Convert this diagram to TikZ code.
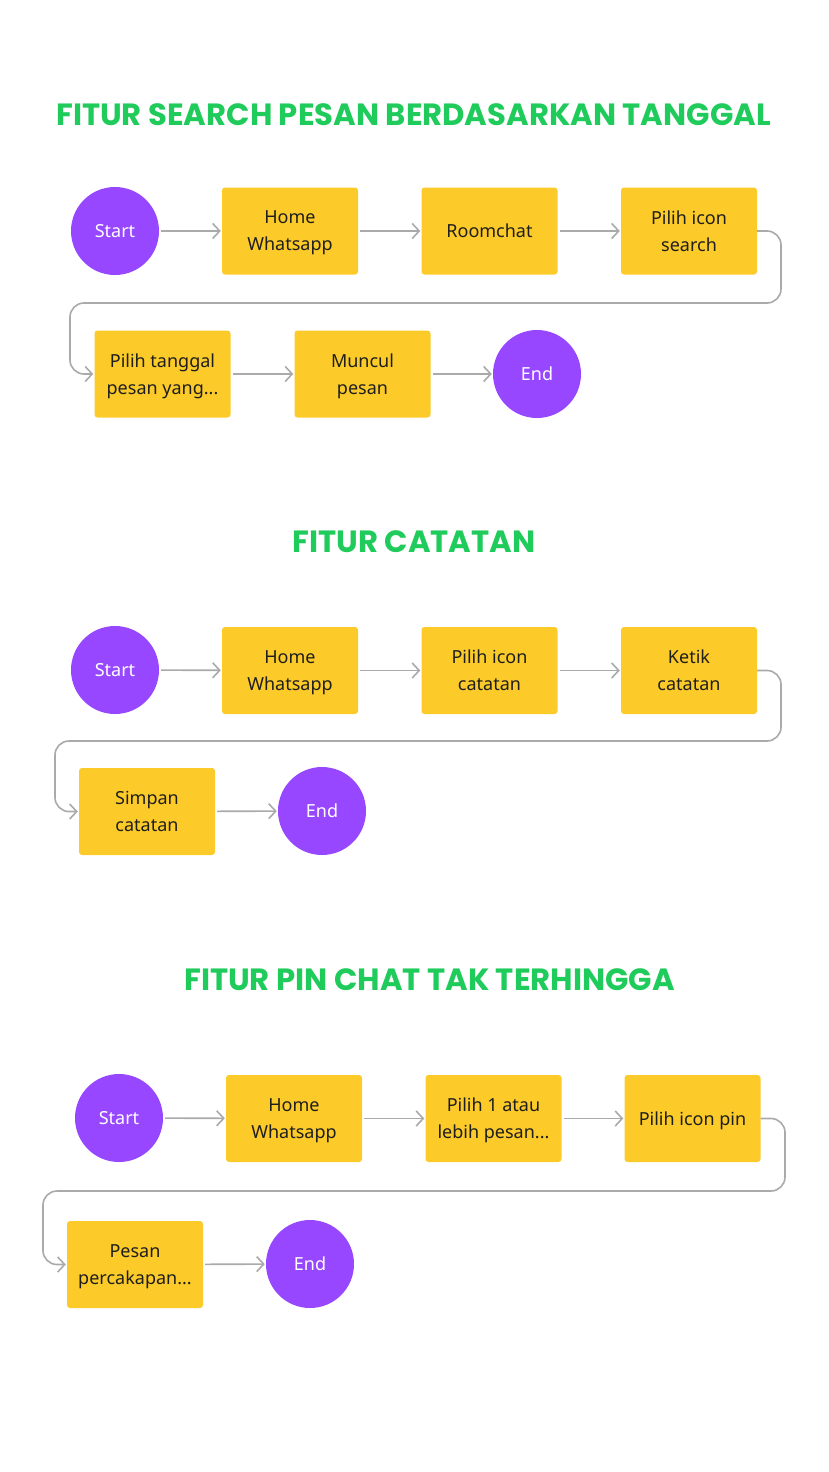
\documentclass[tikz,border=0pt]{standalone}
\usepackage{fontspec}
\setmainfont{Noto Sans}
\newfontfamily\titlefont{Poppins}
\usetikzlibrary{arrows.meta}
\definecolor{fpurple}{HTML}{9747FF}
\definecolor{fyellow}{HTML}{FCCB2A}
\definecolor{fgreen}{HTML}{1FCB5B}
\definecolor{fgray}{HTML}{AAAAAA}
\definecolor{ftext}{HTML}{1E1E1E}
\begin{document}
\begin{tikzpicture}[x=1pt,y=-1pt,
  startend/.style={circle,fill=fpurple,minimum size=88pt,inner sep=0pt,text=white,font=\fontsize{18}{27}\selectfont},
  stepbox/.style={rectangle,rounded corners=3pt,fill=fyellow,minimum width=136pt,minimum height=87pt,inner sep=0pt,text=ftext,align=center,text depth=0pt,font=\fontsize{18}{27}\selectfont},
  ttl/.style={text=fgreen,font=\titlefont\bfseries\fontsize{30.7}{36}\selectfont},
  conn/.style={draw=fgray,line width=1.6pt,-{Straight Barb[length=7pt,width=15pt,line width=1.6pt]},shorten <=2pt,shorten >=1pt},
  wrap/.style={draw=fgray,line width=1.6pt,rounded corners=14pt,-{Straight Barb[length=7pt,width=15pt,line width=1.6pt]},shorten >=1pt}
]
\fill[white] (0,0) rectangle (828,1472);
% Section 1
\node[ttl] (t1) at (413.5,115) {FITUR SEARCH PESAN BERDASARKAN TANGGAL};
\node[startend] (s1) at (115,231) {Start};
\node[stepbox] (a1) at (290,231) {Home\\Whatsapp};
\node[stepbox] (a2) at (489.5,231) {Roomchat};
\node[stepbox] (a3) at (689,231) {Pilih icon\\search};
\node[stepbox] (a4) at (162.5,374) {Pilih tanggal\\pesan yang...};
\node[stepbox] (a5) at (362.5,374) {Muncul\\pesan};
\node[startend] (e1) at (537,374) {End};
\coordinate (w1a) at (781,303);
\coordinate (w1b) at (70,303);
\draw[conn] (s1) -- (a1);
\draw[conn] (a1) -- (a2);
\draw[conn] (a2) -- (a3);
\draw[wrap] (a3.east) -| (w1a) -- (w1b) |- (a4.west);
\draw[conn] (a4) -- (a5);
\draw[conn] (a5) -- (e1);
% Section 2
\node[ttl] (t2) at (414,542) {FITUR CATATAN};
\node[startend] (s2) at (115,670) {Start};
\node[stepbox] (b1) at (290,670.5) {Home\\Whatsapp};
\node[stepbox] (b2) at (489.5,670.5) {Pilih icon\\catatan};
\node[stepbox] (b3) at (689,670.5) {Ketik\\catatan};
\node[stepbox] (b4) at (147,811.5) {Simpan\\catatan};
\node[startend] (e2) at (322,811) {End};
\coordinate (w2a) at (781,741);
\coordinate (w2b) at (55,741);
\draw[conn] (s2) -- (b1);
\draw[conn] (b1) -- (b2);
\draw[conn] (b2) -- (b3);
\draw[wrap] (b3.east) -| (w2a) -- (w2b) |- (b4.west);
\draw[conn] (b4) -- (e2);
% Section 3
\node[ttl] (t3) at (429.5,980) {FITUR PIN CHAT TAK TERHINGGA};
\node[startend] (s3) at (119,1118) {Start};
\node[stepbox] (c1) at (294,1118.5) {Home\\Whatsapp};
\node[stepbox] (c2) at (493.5,1118.5) {Pilih 1 atau\\lebih pesan...};
\node[stepbox] (c3) at (692.5,1118.5) {Pilih icon pin};
\node[stepbox] (c4) at (135,1264.5) {Pesan\\percakapan...};
\node[startend] (e3) at (310,1264) {End};
\coordinate (w3a) at (785,1191);
\coordinate (w3b) at (43,1191);
\draw[conn] (s3) -- (c1);
\draw[conn] (c1) -- (c2);
\draw[conn] (c2) -- (c3);
\draw[wrap] (c3.east) -| (w3a) -- (w3b) |- (c4.west);
\draw[conn] (c4) -- (e3);
\end{tikzpicture}
\end{document}
